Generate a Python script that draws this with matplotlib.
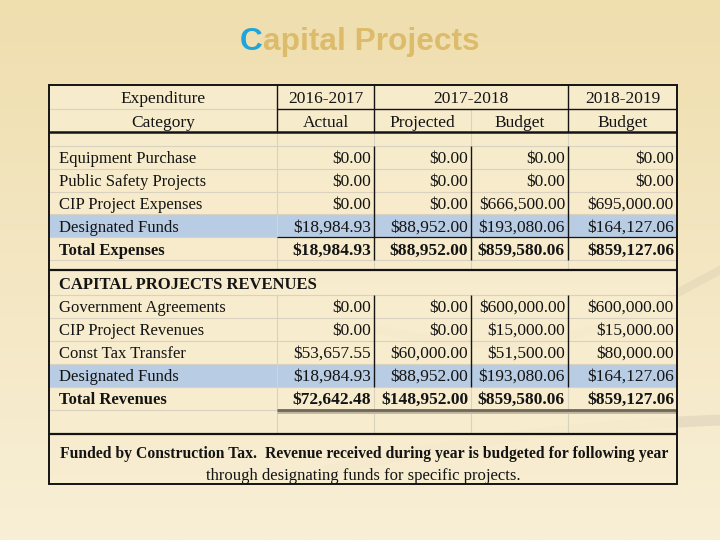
import matplotlib
matplotlib.use('Agg')
import matplotlib.pyplot as plt
import numpy as np
from matplotlib.patches import Rectangle

TITLE_FIRST = "C"
TITLE_REST = "apital Projects"

head_left = ["Expenditure", "Category"]
head_years = ["2016-2017", "2017-2018", "2018-2019"]
head_kinds = ["Actual", "Projected", "Budget", "Budget"]

exp_labels = ["Equipment Purchase", "Public Safety Projects",
              "CIP Project Expenses", "Designated Funds"]
exp_actual_1617 = [0.00, 0.00, 0.00, 18984.93]
exp_proj_1718 = [0.00, 0.00, 0.00, 88952.00]
exp_budget_1718 = [0.00, 0.00, 666500.00, 193080.06]
exp_budget_1819 = [0.00, 0.00, 695000.00, 164127.06]
exp_total_label = "Total Expenses"
exp_totals = [18984.93, 88952.00, 859580.06, 859127.06]

rev_title = "CAPITAL PROJECTS REVENUES"
rev_labels = ["Government Agreements", "CIP Project Revenues",
              "Const Tax Transfer", "Designated Funds"]
rev_actual_1617 = [0.00, 0.00, 53657.55, 18984.93]
rev_proj_1718 = [0.00, 0.00, 60000.00, 88952.00]
rev_budget_1718 = [600000.00, 15000.00, 51500.00, 193080.06]
rev_budget_1819 = [600000.00, 15000.00, 80000.00, 164127.06]
rev_total_label = "Total Revenues"
rev_totals = [72642.48, 148952.00, 859580.06, 859127.06]

footnote = ["Funded by Construction Tax.  Revenue received during year is budgeted for following year",
            "through designating funds for specific projects."]

SERIF = ['Liberation Serif', 'DejaVu Serif']
INK = '#141414'
LIGHT = '#d9d2c0'
BLUE = '#b8cce4'

# column edges and row edges in pixels
X = [49, 277, 374, 471, 568, 677]
TOP, BOTTOM = 85, 484


def money(v):
    return f"${v:,.2f}"


def hline(ax, y, x0, x1, color=INK, lw=1.0):
    ax.plot([x0, x1], [y, y], color=color, lw=lw, solid_capstyle='butt', zorder=3)


def vline(ax, x, y0, y1, color=INK, lw=1.0):
    ax.plot([x, x], [y0, y1], color=color, lw=lw, solid_capstyle='butt', zorder=3)


fig = plt.figure(figsize=(7.2, 5.4), dpi=100)
ax = fig.add_axes([0, 0, 1, 1])
ax.set_xlim(0, 720)
ax.set_ylim(540, 0)
ax.axis('off')

# slide background gradient
grad = np.linspace(0, 1, 256)[:, None]
top_c = np.array([239, 222, 174]) / 255
bot_c = np.array([248, 239, 214]) / 255
img = top_c[None, None, :] * (1 - grad[..., None]) + bot_c[None, None, :] * grad[..., None]
img = np.repeat(img, 4, axis=1)
ax.imshow(img, extent=[0, 720, 540, 0], aspect='auto', zorder=0)

# faint swoosh decorations
t = np.linspace(0, 1, 100)
ax.plot(330 + 390 * t, 470 - 50 * t - 10 * np.sin(np.pi * t), color='#cbc2ab',
        lw=8, alpha=0.35, zorder=0.5)
ax.plot(380 + 340 * t, 330 + 40 * np.sin(np.pi * t) - 60 * t, color='#cbc2ab',
        lw=6, alpha=0.25, zorder=0.5)

# title
t1 = ax.text(240, 50, TITLE_FIRST, fontsize=22.8, color='#1ea5dc', weight='bold',
             family=['Liberation Sans', 'DejaVu Sans'], va='baseline', zorder=5)
ax.annotate(TITLE_REST, xy=(1, 0), xycoords=t1, va='bottom', ha='left',
            fontsize=22.8, color='#dcbc6a', weight='bold',
            family=['Liberation Sans', 'DejaVu Sans'], zorder=5)

# table background and highlighted rows
ax.add_patch(Rectangle((X[0], TOP), X[-1] - X[0], BOTTOM - TOP,
                       facecolor='#f8edcf', alpha=0.85, edgecolor='none', zorder=1))
for y0, y1 in [(214, 237), (364, 387)]:
    ax.add_patch(Rectangle((X[0], y0), X[-1] - X[0], y1 - y0,
                           facecolor=BLUE, edgecolor='none', zorder=1.2))

# light grid
for y in [109, 237, 410]:
    hline(ax, y, X[0], X[1], LIGHT, 0.8)
for y in [146, 169, 192, 214, 260, 295, 318, 341, 364, 387]:
    hline(ax, y, X[0], X[-1], LIGHT, 0.8)
for x in X[1:5]:
    vline(ax, x, 132, 270, LIGHT, 0.8)
    vline(ax, x, 295, 434, LIGHT, 0.8)
vline(ax, X[3], 109, 132, LIGHT, 0.8)

# dark rules
ax.add_patch(Rectangle((X[0], TOP), X[-1] - X[0], BOTTOM - TOP,
                       facecolor='none', edgecolor=INK, lw=1.4, zorder=4))
hline(ax, 109, X[1], X[-1])
for x in [X[1], X[2], X[4]]:
    vline(ax, x, TOP, 132)
hline(ax, 132, X[0], X[-1], lw=1.8)
for x in X[2:5]:
    vline(ax, x, 146, 260)
    vline(ax, x, 295, 387)
hline(ax, 237, X[1], X[-1], lw=0.9)
hline(ax, 270, X[0], X[-1], lw=1.6)
hline(ax, 412, X[1], X[-1], '#bdb5a0', 2.0)
hline(ax, 410, X[1], X[-1], '#6f6757', 2.0)
hline(ax, 434, X[0], X[-1], lw=1.6)

# header text
txt = dict(family=SERIF, color=INK, zorder=6)
ax.text((X[0] + X[1]) / 2, 103, head_left[0], ha='center', va='baseline', fontsize=12.5, **txt)
ax.text((X[0] + X[1]) / 2, 127, head_left[1], ha='center', va='baseline', fontsize=12.5, **txt)
ax.text((X[1] + X[2]) / 2, 103, head_years[0], ha='center', va='baseline', fontsize=12.5, **txt)
ax.text((X[2] + X[4]) / 2, 103, head_years[1], ha='center', va='baseline', fontsize=12.5, **txt)
ax.text((X[4] + X[5]) / 2, 103, head_years[2], ha='center', va='baseline', fontsize=12.5, **txt)
for i, k in enumerate(head_kinds):
    ax.text((X[i + 1] + X[i + 2]) / 2, 127, k, ha='center', va='baseline',
            fontsize=12.5, **txt)


def draw_rows(labels, cols, y_first, bold=False):
    for r, lab in enumerate(labels):
        yb = y_first + 23 * r + 5.5
        w = 'bold' if bold else 'normal'
        ax.text(59, yb, lab, ha='left', va='baseline', fontsize=12, weight=w, **txt)
        for c, series in enumerate(cols):
            ax.text(X[c + 2] - 3, yb, money(series[r]), ha='right', va='baseline',
                    fontsize=12.5, weight=w, **txt)


draw_rows(exp_labels, [exp_actual_1617, exp_proj_1718, exp_budget_1718, exp_budget_1819], 157.5)
draw_rows([exp_total_label], [[v] for v in exp_totals], 157.5 + 23 * 4, bold=True)

ax.text(59, 283.5 + 5.5, rev_title, ha='left', va='baseline', fontsize=12,
        weight='bold', **txt)
draw_rows(rev_labels, [rev_actual_1617, rev_proj_1718, rev_budget_1718, rev_budget_1819], 306.5)
draw_rows([rev_total_label], [[v] for v in rev_totals], 306.5 + 23 * 4, bold=True)

# footnote
ax.text((X[0] + X[-1]) / 2 + 1, 457.5, footnote[0], ha='center', va='baseline',
        fontsize=11.3, weight='bold', **txt)
ax.text((X[0] + X[-1]) / 2, 480, footnote[1], ha='center', va='baseline',
        fontsize=12, **txt)

fig.savefig('out.png', dpi=100)
